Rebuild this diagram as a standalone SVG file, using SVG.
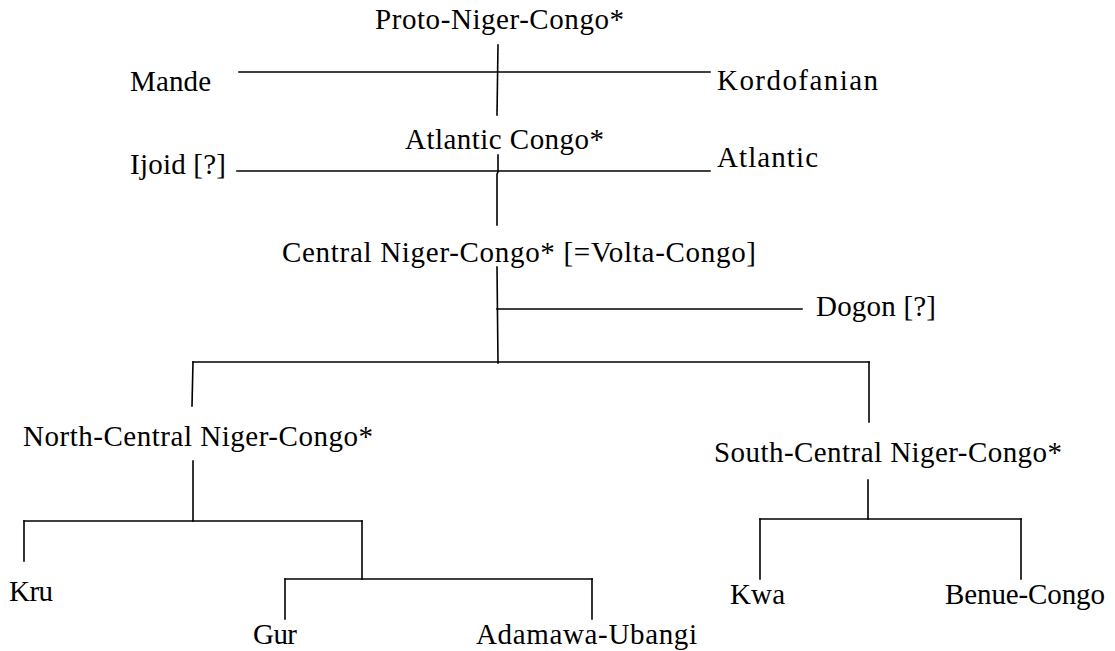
<svg xmlns="http://www.w3.org/2000/svg" width="1115" height="651" viewBox="0 0 1115 651">
  <style>
    .lbl { font-family: "Liberation Serif", "Times New Roman", serif; font-size: 29px; fill: #000; }
    .ln { stroke: #000; stroke-width: 1.6; fill: none; stroke-linecap: square; }
  </style>
  <rect width="1115" height="651" fill="#fff"/>

  <!-- branch lines of the family tree -->
  <g id="connectors" class="ln">
    <path d="M498 45 L497 115"/>
    <path d="M239 72 H710"/>
    <path d="M498 155 L498 172 L497 174 L497 225"/>
    <path d="M237 171 H710"/>
    <path d="M497 267 L498 363"/>
    <path d="M497 309 H802"/>
    <path d="M193 362 H869"/>
    <path d="M193 362 L192 406"/>
    <path d="M869 362 V422"/>
    <path d="M193 461 V521"/>
    <path d="M24 521 H362"/>
    <path d="M24 521 V561"/>
    <path d="M362 521 V579"/>
    <path d="M285 579 H592"/>
    <path d="M285 579 V619"/>
    <path d="M592 579 V619"/>
    <path d="M868 480 V519"/>
    <path d="M760 519 H1021"/>
    <path d="M760 519 V579"/>
    <path d="M1021 519 V579"/>
  </g>

  <g id="proto-niger-congo"><text class="lbl" x="375" y="29" textLength="249" lengthAdjust="spacing">Proto-Niger-Congo*</text></g>
  <g id="mande"><text class="lbl" x="130" y="91" textLength="81" lengthAdjust="spacing">Mande</text></g>
  <g id="kordofanian"><text class="lbl" x="717" y="90" textLength="161" lengthAdjust="spacing">Kordofanian</text></g>
  <g id="atlantic-congo"><text class="lbl" x="405" y="149" textLength="199" lengthAdjust="spacing">Atlantic Congo*</text></g>
  <g id="ijoid"><text class="lbl" x="130" y="174" textLength="96" lengthAdjust="spacing">Ijoid [?]</text></g>
  <g id="atlantic"><text class="lbl" x="717" y="167" textLength="101" lengthAdjust="spacing">Atlantic</text></g>
  <g id="central-niger-congo"><text class="lbl" x="282" y="262" textLength="474" lengthAdjust="spacing">Central Niger-Congo* [=Volta-Congo]</text></g>
  <g id="dogon"><text class="lbl" x="816" y="316" textLength="120" lengthAdjust="spacing">Dogon [?]</text></g>
  <g id="north-central"><text class="lbl" x="23" y="446" textLength="350" lengthAdjust="spacing">North-Central Niger-Congo*</text></g>
  <g id="south-central"><text class="lbl" x="714" y="462" textLength="348" lengthAdjust="spacing">South-Central Niger-Congo*</text></g>
  <g id="kru"><text class="lbl" x="9" y="601" textLength="44" lengthAdjust="spacing">Kru</text></g>
  <g id="gur"><text class="lbl" x="253" y="644" textLength="44" lengthAdjust="spacing">Gur</text></g>
  <g id="adamawa-ubangi"><text class="lbl" x="476" y="644" textLength="221" lengthAdjust="spacing">Adamawa-Ubangi</text></g>
  <g id="kwa"><text class="lbl" x="730" y="604" textLength="55" lengthAdjust="spacing">Kwa</text></g>
  <g id="benue-congo"><text class="lbl" x="945" y="604" textLength="160" lengthAdjust="spacing">Benue-Congo</text></g>
</svg>
